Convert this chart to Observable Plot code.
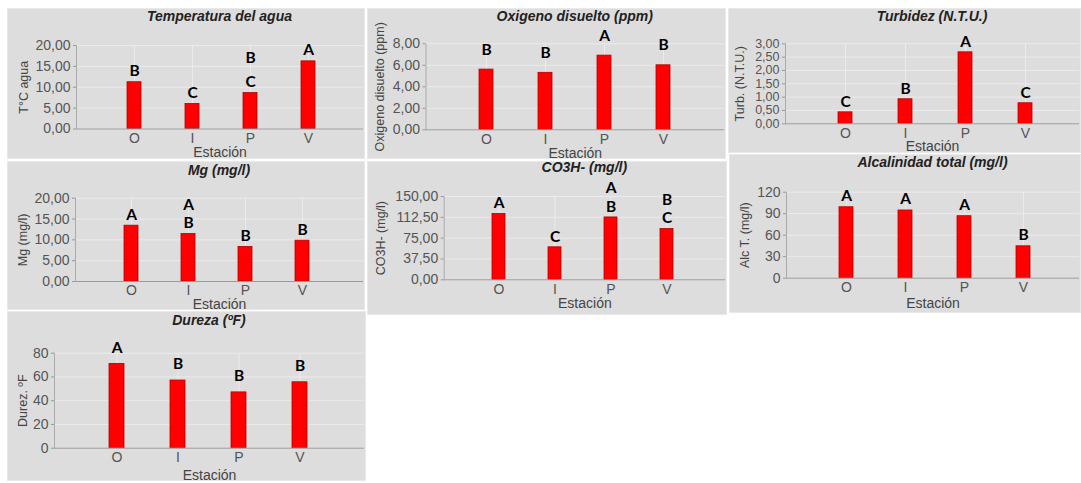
<!DOCTYPE html>
<html><head><meta charset="utf-8">
<script src="https://cdn.jsdelivr.net/npm/d3@7"></script>
<script src="https://cdn.jsdelivr.net/npm/@observablehq/plot@0.6"></script>
<style>
body{margin:0;background:#fff;width:1081px;height:483px;overflow:hidden;position:relative;font-family:"Liberation Sans",Arial,sans-serif}
.panel{position:absolute;background:#dddddd;box-shadow:inset 0 0 0 1px #e9e9e9;overflow:visible}
.title{position:absolute;text-align:center;font-weight:bold;font-style:italic;font-size:14px;color:#222;white-space:nowrap;height:18px;line-height:18px}
.panel svg{position:absolute;left:0}
</style></head><body>
<script>
// ---- data ----
const stations = ["O", "I", "P", "V"];

const tempValues = [11.2, 6.0, 8.6, 16.2];
const tempLetters = ["B", "C", "BC", "A"];
const tempTicks = [0, 5, 10, 15, 20];

const oxValues = [5.6, 5.3, 6.9, 6.0];
const oxLetters = ["B", "B", "A", "B"];
const oxTicks = [0, 2, 4, 6, 8];

const turbValues = [0.43, 0.92, 2.68, 0.77];
const turbLetters = ["C", "B", "A", "C"];
const turbTicks = [0, 0.5, 1, 1.5, 2, 2.5, 3];

const mgValues = [13.4, 11.4, 8.3, 9.8];
const mgLetters = ["A", "AB", "B", "B"];
const mgTicks = [0, 5, 10, 15, 20];

const co3hValues = [118.5, 58.5, 112.3, 91.5];
const co3hLetters = ["A", "C", "AB", "BC"];
const co3hTicks = [0, 37.5, 75, 112.5, 150];

const alcValues = [99, 94.5, 86.5, 44.5];
const alcLetters = ["A", "A", "A", "B"];
const alcTicks = [0, 30, 60, 90, 120];

const durValues = [71, 57, 47, 55.5];
const durLetters = ["A", "B", "B", "B"];
const durTicks = [0, 20, 40, 60, 80];

const xLabel = "Estación";

// ---- layout (page pixel geometry of each panel) ----
const panels = [
  {title: "Temperatura del agua", ylabel: "T°C agua", values: tempValues, letters: tempLetters, ticks: tempTicks, dec: 2, tickFont: 14,
   box: [7, 8, 365, 159], titleY: 16, yTop: 45, y0: 128.5, axis: 76, cO: 133, cV: 308.5, gap: 11, lstep: 24, estDy: 23.5, labelX: 23},
  {title: "Oxigeno disuelto (ppm)", ylabel: "Oxigeno disuelto (ppm)", values: oxValues, letters: oxLetters, ticks: oxTicks, dec: 2, tickFont: 14,
   box: [367, 8, 726, 159], titleY: 16, yTop: 43.3, y0: 129.3, axis: 425.5, cO: 484.5, cV: 664.2, gap: 20, lstep: 18.8, estDy: 23.5, labelX: 379},
  {title: "Turbidez (N.T.U.)", ylabel: "Turb. (N.T.U.)", values: turbValues, letters: turbLetters, ticks: turbTicks, dec: 2, tickFont: 12.5,
   box: [728, 8, 1081, 153], titleY: 16, yTop: 43.3, y0: 123.3, axis: 785, cO: 845, cV: 1025, gap: 10.5, lstep: 18.8, estDy: 23, labelX: 739},
  {title: "Mg (mg/l)", ylabel: "Mg (mg/l)", values: mgValues, letters: mgLetters, ticks: mgTicks, dec: 2, tickFont: 14,
   box: [7, 161, 365, 310], titleY: 170, yTop: 197.7, y0: 281, axis: 75, cO: 131, cV: 302.5, gap: 10.5, lstep: 18.8, estDy: 23.5, labelX: 22},
  {title: "CO3H- (mg/l)", ylabel: "CO3H- (mg/l)", values: co3hValues, letters: co3hLetters, ticks: co3hTicks, dec: 2, tickFont: 14,
   box: [367, 161, 727, 315], titleY: 167, yTop: 196, y0: 279.3, axis: 443.7, cO: 498.3, cV: 667.8, gap: 10.5, lstep: 18.8, estDy: 24, labelX: 380},
  {title: "Alcalinidad total (mg/l)", ylabel: "Alc T. (mg/l)", values: alcValues, letters: alcLetters, ticks: alcTicks, dec: 0, tickFont: 14,
   box: [729, 154, 1081, 313], titleY: 162, yTop: 191.7, y0: 277.7, axis: 786, cO: 845, cV: 1024.7, gap: 11, lstep: 18.8, estDy: 25, labelX: 744},
  {title: "Dureza (ºF)", ylabel: "Durez. ºF", values: durValues, letters: durLetters, ticks: durTicks, dec: 0, tickFont: 14,
   box: [7, 311, 366, 481], titleY: 320, yTop: 352.7, y0: 447.7, axis: 54, cO: 116, cV: 299, gap: 16, lstep: 18.8, estDy: 27, labelX: 22}
];

const letterStyle = {fill: "#000", fontSize: 15.5, fontWeight: "bold", fontFamily: "Lato, 'Open Sans', sans-serif", lineAnchor: "middle"};

function drawPanel(cfg) {
  const [L, T, R, B] = cfg.box;
  const th = Math.round(2 * (cfg.titleY - T));
  const W = R - L;
  const svgTop = T + th;
  const extra = 6;               // transparent room below the panel so bottom texts are not cut
  const H = B - svgTop + extra;
  const div = document.createElement("div");
  div.className = "panel";
  Object.assign(div.style, {left: L + "px", top: T + "px", width: W + "px", height: (B - T) + "px"});
  const title = document.createElement("div");
  title.className = "title";
  title.textContent = cfg.title;
  Object.assign(title.style, {left: (cfg.axis - L) + "px", width: (R - 2 - cfg.axis) + "px", top: (cfg.titleY - T - 9) + "px"});
  div.appendChild(title);

  const step = (cfg.cV - cfg.cO) / 3;
  const rows = stations.map((s, i) => ({station: s, value: cfg.values[i], letters: cfg.letters[i]}));
  const level = j => rows.filter(r => r.letters.length > j)
    .map(r => ({...r, letter: r.letters[r.letters.length - 1 - j]}));
  const fmt = d => d.toFixed(cfg.dec).replace(".", ",");
  const ymax = cfg.ticks[cfg.ticks.length - 1];

  const svg = Plot.plot({
    width: W,
    height: H,
    marginTop: cfg.yTop - svgTop,
    marginBottom: svgTop + H - cfg.y0,
    marginLeft: cfg.axis - L,
    marginRight: 2,
    style: {background: "transparent", fontFamily: "'Liberation Sans', Arial, sans-serif", fontSize: "14px", overflow: "visible"},
    x: {domain: stations, range: [cfg.cO - step - L, cfg.cV + step - L], paddingInner: 0.76, paddingOuter: 0.88},
    y: {domain: [0, ymax]},
    marks: [
      Plot.gridY(cfg.ticks, {stroke: "#ebebeb", strokeOpacity: 1}),
      Plot.gridX({stroke: "#ebebeb", strokeOpacity: 1}),
      Plot.barY(rows, {x: "station", y: "value", fill: "#ff0000", stroke: "#b30000", strokeWidth: 0.8}),
      Plot.ruleY([0], {stroke: "#999"}),
      Plot.frame({anchor: "left", stroke: "#aaa"}),
      Plot.axisY(cfg.ticks, {tickFormat: fmt, tickSize: 3, tickPadding: 3, fill: "#555", stroke: "#999", fontSize: cfg.tickFont, label: null}),
      Plot.axisX({tickSize: 0, tickPadding: 4, fill: "#555", label: null}),
      Plot.text([xLabel], {frameAnchor: "bottom", dy: cfg.estDy, lineAnchor: "middle", fill: "#444", fontSize: 14}),
      Plot.text([cfg.ylabel], {frameAnchor: "left", rotate: -90, dx: cfg.labelX - cfg.axis, textAnchor: "middle", lineAnchor: "middle", fill: "#444", fontSize: 12.5}),
      Plot.text(level(0), {x: "station", y: "value", text: "letter", dy: -cfg.gap, ...letterStyle}),
      Plot.text(level(1), {x: "station", y: "value", text: "letter", dy: -(cfg.gap + cfg.lstep), ...letterStyle})
    ]
  });
  svg.style.top = th + "px";
  div.appendChild(svg);
  document.body.appendChild(div);
}

panels.forEach(drawPanel);
</script>
</body></html>
